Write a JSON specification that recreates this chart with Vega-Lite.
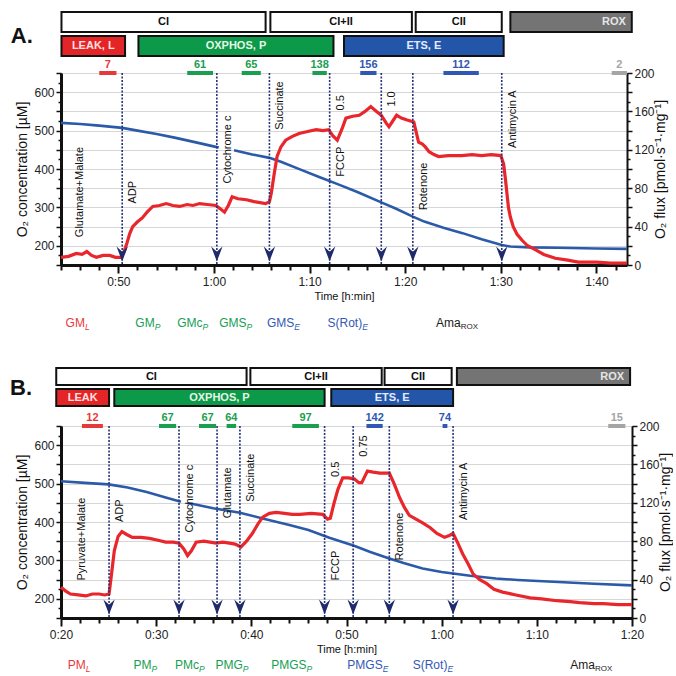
{
"$schema": "https://vega.github.io/schema/vega-lite/v6.json",
"padding": {"left": 10, "top": 11, "right": 0, "bottom": 0},
"background": "white",
"config": {
  "font": "Liberation Sans",
  "view": {"stroke": null},
  "axis": {"labelFont": "Liberation Sans", "titleFont": "Liberation Sans", "labelColor": "#222", "titleColor": "#111", "tickColor": "#111", "domainColor": "#111", "titleFontWeight": "normal", "labelFontSize": 12, "gridColor": "#d6d6d6", "gridWidth": 1, "labelOverlap": false, "labelFlush": false}
},
"datasets": {
  "hdrA": [
    {"tier": "complex", "kind": "complex", "label": "CI", "from": 44.05, "to": 65.4},
    {"tier": "complex", "kind": "complex", "label": "CI+II", "from": 65.9, "to": 80.7},
    {"tier": "complex", "kind": "complex", "label": "CII", "from": 81.1, "to": 90.1},
    {"tier": "complex", "kind": "ROX", "label": "ROX", "from": 91.0, "to": 103.7},
    {"tier": "state", "kind": "LEAK", "label": "LEAK, L", "from": 44.05, "to": 50.7},
    {"tier": "state", "kind": "OXPHOS", "label": "OXPHOS, P", "from": 52.1, "to": 72.5},
    {"tier": "state", "kind": "ETS", "label": "ETS, E", "from": 73.6, "to": 90.3}
  ],
  "hdrB": [
    {"tier": "complex", "kind": "complex", "label": "CI", "from": 19.5, "to": 39.5},
    {"tier": "complex", "kind": "complex", "label": "CI+II", "from": 39.9, "to": 53.7},
    {"tier": "complex", "kind": "complex", "label": "CII", "from": 54.0, "to": 61.05},
    {"tier": "complex", "kind": "ROX", "label": "ROX", "from": 61.6, "to": 79.8},
    {"tier": "state", "kind": "LEAK", "label": "LEAK", "from": 19.5, "to": 25.05},
    {"tier": "state", "kind": "OXPHOS", "label": "OXPHOS, P", "from": 25.6, "to": 47.7},
    {"tier": "state", "kind": "ETS", "label": "ETS, E", "from": 48.4, "to": 61.2}
  ],
  "mkA": [
    {"from": 48.0, "to": 49.8, "v": 7, "kind": "L"},
    {"from": 57.2, "to": 59.9, "v": 61, "kind": "P"},
    {"from": 62.9, "to": 64.9, "v": 65, "kind": "P"},
    {"from": 70.3, "to": 71.8, "v": 138, "kind": "P"},
    {"from": 75.3, "to": 77.0, "v": 156, "kind": "E"},
    {"from": 84.0, "to": 87.7, "v": 112, "kind": "E"},
    {"from": 101.6, "to": 103.2, "v": 2, "kind": "ROX"}
  ],
  "mkB": [
    {"from": 22.2, "to": 24.4, "v": 12, "kind": "L"},
    {"from": 30.3, "to": 32.1, "v": 67, "kind": "P"},
    {"from": 34.5, "to": 36.3, "v": 67, "kind": "P"},
    {"from": 37.4, "to": 38.4, "v": 64, "kind": "P"},
    {"from": 44.3, "to": 47.1, "v": 97, "kind": "P"},
    {"from": 52.1, "to": 53.8, "v": 142, "kind": "E"},
    {"from": 60.1, "to": 60.6, "v": 74, "kind": "E"},
    {"from": 77.5, "to": 79.3, "v": 15, "kind": "ROX"}
  ],
  "evA": [{"t": 50.4}, {"t": 60.3}, {"t": 65.8}, {"t": 72.1}, {"t": 77.5}, {"t": 80.8}, {"t": 90.1}],
  "evB": [{"t": 25.05}, {"t": 32.4}, {"t": 36.4}, {"t": 38.8}, {"t": 47.7}, {"t": 50.7}, {"t": 54.5}, {"t": 61.2}],
  "lblA": [
    {"t": 44.8, "label": "Glutamate+Malate", "level": 29},
    {"t": 50.4, "label": "ADP", "level": 64},
    {"t": 60.3, "label": "Cytochrome c", "level": 85},
    {"t": 65.8, "label": "Succinate", "level": 141},
    {"t": 72.1, "label": "FCCP", "level": 92},
    {"t": 72.1, "label": "0.5", "level": 161},
    {"t": 77.5, "label": "1.0", "level": 165},
    {"t": 80.8, "label": "Rotenone", "level": 57},
    {"t": 90.1, "label": "Antimycin A", "level": 122}
  ],
  "lblB": [
    {"t": 21.0, "label": "Pyruvate+Malate", "level": 39},
    {"t": 25.05, "label": "ADP", "level": 100},
    {"t": 32.4, "label": "Cytochrome c", "level": 89},
    {"t": 36.4, "label": "Glutamate", "level": 104},
    {"t": 38.8, "label": "Succinate", "level": 121},
    {"t": 47.7, "label": "FCCP", "level": 39},
    {"t": 47.7, "label": "0.5", "level": 147},
    {"t": 50.7, "label": "0.75", "level": 168},
    {"t": 54.5, "label": "Rotenone", "level": 60},
    {"t": 61.2, "label": "Antimycin A", "level": 102}
  ],
  "ftA": [
    {"t": 46.5, "main": "GM", "sub": "L", "st": "L"},
    {"t": 53.8, "main": "GM", "sub": "P", "st": "P"},
    {"t": 58.8, "main": "GMc", "sub": "P", "st": "P"},
    {"t": 63.4, "main": "GMS", "sub": "P", "st": "P"},
    {"t": 68.4, "main": "GMS", "sub": "E", "st": "E"},
    {"t": 75.5, "main": "S(Rot)", "sub": "E", "st": "E"},
    {"t": 85.8, "main": "Ama", "sub": "ROX", "st": "ROX"}
  ],
  "ftB": [
    {"t": 22.6, "main": "PM", "sub": "L", "st": "L"},
    {"t": 29.5, "main": "PM", "sub": "P", "st": "P"},
    {"t": 34.5, "main": "PMc", "sub": "P", "st": "P"},
    {"t": 39.1, "main": "PMG", "sub": "P", "st": "P"},
    {"t": 45.8, "main": "PMGS", "sub": "P", "st": "P"},
    {"t": 53.8, "main": "PMGS", "sub": "E", "st": "E"},
    {"t": 60.6, "main": "S(Rot)", "sub": "E", "st": "E"},
    {"t": 76.1, "main": "Ama", "sub": "ROX", "st": "ROX"}
  ],
  "o2A": [
    {"t": 44, "o2": 520, "seg": 1}, {"t": 46, "o2": 517, "seg": 1}, {"t": 48, "o2": 513, "seg": 1}, {"t": 50.4, "o2": 507, "seg": 1},
    {"t": 52, "o2": 500, "seg": 1}, {"t": 54, "o2": 491, "seg": 1}, {"t": 56, "o2": 481, "seg": 1}, {"t": 58, "o2": 470, "seg": 1},
    {"t": 60.3, "o2": 457, "seg": 1}, {"t": 60.5, "o2": 456, "seg": 1},
    {"t": 62.1, "o2": 449, "seg": 2}, {"t": 64, "o2": 438, "seg": 2}, {"t": 65.8, "o2": 429, "seg": 2}, {"t": 67, "o2": 419, "seg": 2},
    {"t": 69, "o2": 399, "seg": 2}, {"t": 71, "o2": 379, "seg": 2}, {"t": 73, "o2": 360, "seg": 2}, {"t": 75, "o2": 340, "seg": 2},
    {"t": 77.5, "o2": 313, "seg": 2}, {"t": 79, "o2": 297, "seg": 2}, {"t": 80.8, "o2": 276, "seg": 2}, {"t": 82, "o2": 263, "seg": 2},
    {"t": 84, "o2": 247, "seg": 2}, {"t": 86, "o2": 233, "seg": 2}, {"t": 88, "o2": 217, "seg": 2}, {"t": 90.1, "o2": 202, "seg": 2},
    {"t": 91, "o2": 198, "seg": 2}, {"t": 93, "o2": 196, "seg": 2}, {"t": 96, "o2": 195, "seg": 2}, {"t": 100, "o2": 193, "seg": 2},
    {"t": 103.2, "o2": 192, "seg": 2}
  ],
  "o2B": [
    {"t": 20, "o2": 506, "seg": 1}, {"t": 22.5, "o2": 502, "seg": 1}, {"t": 25, "o2": 498, "seg": 1}, {"t": 27, "o2": 490, "seg": 1},
    {"t": 29, "o2": 478, "seg": 1}, {"t": 31, "o2": 464, "seg": 1}, {"t": 32.6, "o2": 453, "seg": 1},
    {"t": 33.3, "o2": 449, "seg": 2}, {"t": 34, "o2": 446, "seg": 2}, {"t": 36, "o2": 436, "seg": 2}, {"t": 38.8, "o2": 424, "seg": 2},
    {"t": 41.4, "o2": 408, "seg": 2}, {"t": 44, "o2": 392, "seg": 2}, {"t": 46, "o2": 379, "seg": 2}, {"t": 48.2, "o2": 359, "seg": 2},
    {"t": 50.8, "o2": 338, "seg": 2}, {"t": 52.5, "o2": 322, "seg": 2}, {"t": 54.5, "o2": 305, "seg": 2}, {"t": 56, "o2": 293, "seg": 2},
    {"t": 58, "o2": 279, "seg": 2}, {"t": 60, "o2": 270, "seg": 2}, {"t": 61.2, "o2": 266, "seg": 2}, {"t": 63, "o2": 260, "seg": 2},
    {"t": 65.7, "o2": 253, "seg": 2}, {"t": 68, "o2": 249, "seg": 2}, {"t": 72.8, "o2": 243, "seg": 2}, {"t": 76, "o2": 239, "seg": 2},
    {"t": 80, "o2": 235, "seg": 2}
  ],
  "fluxA": [
    {"t": 44.0, "v": 8}, {"t": 44.8, "v": 9}, {"t": 45.6, "v": 12}, {"t": 46.2, "v": 11}, {"t": 46.7, "v": 14}, {"t": 47.2, "v": 10},
    {"t": 47.7, "v": 8}, {"t": 48.4, "v": 10}, {"t": 49.1, "v": 10}, {"t": 49.7, "v": 8}, {"t": 50.3, "v": 8}, {"t": 50.6, "v": 14},
    {"t": 50.9, "v": 23}, {"t": 51.2, "v": 33}, {"t": 51.5, "v": 40}, {"t": 52.0, "v": 45}, {"t": 52.5, "v": 49}, {"t": 53.0, "v": 55},
    {"t": 53.6, "v": 61}, {"t": 54.3, "v": 62}, {"t": 55.0, "v": 64}, {"t": 55.7, "v": 62}, {"t": 56.4, "v": 61}, {"t": 57.2, "v": 63},
    {"t": 57.8, "v": 62}, {"t": 58.5, "v": 64}, {"t": 59.3, "v": 63}, {"t": 60.2, "v": 62}, {"t": 60.6, "v": 59}, {"t": 61.1, "v": 55},
    {"t": 61.5, "v": 62}, {"t": 61.9, "v": 71}, {"t": 62.5, "v": 69}, {"t": 63.4, "v": 68}, {"t": 64.2, "v": 66}, {"t": 65.4, "v": 64},
    {"t": 65.8, "v": 66}, {"t": 66.0, "v": 75}, {"t": 66.3, "v": 95}, {"t": 66.6, "v": 113}, {"t": 67.0, "v": 123}, {"t": 67.5, "v": 130},
    {"t": 68.2, "v": 134}, {"t": 68.9, "v": 137}, {"t": 69.8, "v": 139}, {"t": 70.7, "v": 141}, {"t": 71.4, "v": 140}, {"t": 72.0, "v": 141},
    {"t": 72.4, "v": 135}, {"t": 72.9, "v": 130}, {"t": 73.4, "v": 142}, {"t": 73.8, "v": 153}, {"t": 74.5, "v": 155}, {"t": 75.2, "v": 156},
    {"t": 75.8, "v": 160}, {"t": 76.4, "v": 165}, {"t": 77.0, "v": 160}, {"t": 77.5, "v": 156}, {"t": 78.0, "v": 148}, {"t": 78.3, "v": 144},
    {"t": 78.7, "v": 150}, {"t": 79.1, "v": 156}, {"t": 79.6, "v": 153}, {"t": 80.2, "v": 151}, {"t": 80.9, "v": 149}, {"t": 81.4, "v": 128},
    {"t": 81.8, "v": 126}, {"t": 82.1, "v": 123}, {"t": 82.5, "v": 118}, {"t": 83.0, "v": 115}, {"t": 83.5, "v": 113}, {"t": 84.5, "v": 114},
    {"t": 85.9, "v": 114}, {"t": 87.0, "v": 115}, {"t": 88.0, "v": 114}, {"t": 89.0, "v": 115}, {"t": 90.0, "v": 114}, {"t": 90.3, "v": 105},
    {"t": 90.5, "v": 88}, {"t": 90.8, "v": 60}, {"t": 91.0, "v": 50}, {"t": 91.3, "v": 40}, {"t": 91.7, "v": 32}, {"t": 92.2, "v": 26},
    {"t": 92.8, "v": 20}, {"t": 93.6, "v": 16}, {"t": 94.5, "v": 11}, {"t": 95.7, "v": 7}, {"t": 97.0, "v": 5}, {"t": 98.1, "v": 3},
    {"t": 100.0, "v": 3}, {"t": 101.5, "v": 2}, {"t": 103.2, "v": 2}
  ],
  "fluxB": [
    {"t": 20.0, "v": 32}, {"t": 20.5, "v": 28}, {"t": 21.0, "v": 25}, {"t": 21.8, "v": 24}, {"t": 22.6, "v": 23}, {"t": 23.3, "v": 25},
    {"t": 24.0, "v": 25}, {"t": 24.6, "v": 24}, {"t": 25.05, "v": 25}, {"t": 25.3, "v": 45}, {"t": 25.6, "v": 70}, {"t": 26.0, "v": 85},
    {"t": 26.4, "v": 90}, {"t": 26.9, "v": 87}, {"t": 27.5, "v": 84}, {"t": 28.4, "v": 84}, {"t": 29.3, "v": 83}, {"t": 30.2, "v": 81},
    {"t": 31.0, "v": 79}, {"t": 31.8, "v": 79}, {"t": 32.4, "v": 78}, {"t": 32.9, "v": 72}, {"t": 33.3, "v": 65}, {"t": 33.7, "v": 70},
    {"t": 34.2, "v": 79}, {"t": 35.0, "v": 80}, {"t": 36.3, "v": 78}, {"t": 37.0, "v": 79}, {"t": 37.7, "v": 78}, {"t": 38.3, "v": 77},
    {"t": 38.9, "v": 74}, {"t": 39.5, "v": 80}, {"t": 40.1, "v": 88}, {"t": 40.7, "v": 98}, {"t": 41.2, "v": 105}, {"t": 41.9, "v": 109},
    {"t": 42.6, "v": 110}, {"t": 43.5, "v": 109}, {"t": 44.3, "v": 108}, {"t": 45.1, "v": 108}, {"t": 46.3, "v": 109}, {"t": 47.5, "v": 108},
    {"t": 48.0, "v": 103}, {"t": 48.3, "v": 104}, {"t": 48.7, "v": 120}, {"t": 49.1, "v": 134}, {"t": 49.6, "v": 146}, {"t": 50.2, "v": 146},
    {"t": 50.8, "v": 145}, {"t": 51.3, "v": 141}, {"t": 51.6, "v": 141}, {"t": 52.2, "v": 153}, {"t": 52.8, "v": 152}, {"t": 53.5, "v": 151},
    {"t": 54.5, "v": 151}, {"t": 55.0, "v": 140}, {"t": 55.6, "v": 125}, {"t": 56.1, "v": 115}, {"t": 56.6, "v": 107}, {"t": 57.3, "v": 103},
    {"t": 58.0, "v": 99}, {"t": 58.8, "v": 94}, {"t": 59.5, "v": 88}, {"t": 60.3, "v": 84}, {"t": 60.8, "v": 86}, {"t": 61.2, "v": 88},
    {"t": 61.7, "v": 78}, {"t": 62.2, "v": 67}, {"t": 62.8, "v": 56}, {"t": 63.3, "v": 46}, {"t": 64.0, "v": 40}, {"t": 64.7, "v": 36},
    {"t": 65.5, "v": 30}, {"t": 66.4, "v": 27}, {"t": 67.8, "v": 24}, {"t": 69.3, "v": 21}, {"t": 70.5, "v": 20}, {"t": 72.1, "v": 18},
    {"t": 73.5, "v": 17}, {"t": 74.5, "v": 16}, {"t": 76.0, "v": 15}, {"t": 77.0, "v": 15}, {"t": 78.5, "v": 14}, {"t": 80.0, "v": 14}
  ]
},
"bounds": "flush",
"spacing": 0,
"resolve": {"scale": {"x": "independent", "y": "independent", "color": "independent", "fill": "independent"}},
"vconcat": [
  {
    "width": 566, "height": 61,
    "layer": [
      {"data": {"name": "hdrA"}, "mark": {"type": "bar", "stroke": "#111", "strokeWidth": 2},
       "encoding": {
         "x": {"field": "from", "type": "quantitative", "scale": {"domain": [44, 103.2], "nice": false, "zero": false}, "axis": null},
         "x2": {"field": "to"},
         "y": {"field": "tier", "type": "nominal", "scale": {"domain": ["complex", "state"], "paddingInner": 0.1667, "paddingOuter": 0.354, "align": 0}, "axis": null},
         "fill": {"field": "kind", "type": "nominal", "scale": {"domain": ["complex", "LEAK", "OXPHOS", "ETS", "ROX"], "range": ["#ffffff", "#e42528", "#0c994a", "#2356a8", "#747474"]}, "legend": null}}},
      {"data": {"name": "hdrA"}, "transform": [{"filter": "datum.kind !== 'ROX'"}, {"fold": ["from", "to"], "as": ["k", "tt"]}],
       "mark": {"type": "text", "fontSize": 11, "fontWeight": "bold"},
       "encoding": {
         "x": {"field": "tt", "aggregate": "mean", "type": "quantitative"},
         "y": {"field": "tier", "type": "nominal"},
         "text": {"field": "label"},
         "color": {"field": "kind", "type": "nominal", "scale": {"domain": ["complex", "LEAK", "OXPHOS", "ETS"], "range": ["#111111", "#ffe0e0", "#e8f6e6", "#e6ecff"]}, "legend": null},
         "detail": {"field": "from", "type": "quantitative"}}},
      {"data": {"name": "hdrA"}, "transform": [{"filter": "datum.kind === 'ROX'"}],
       "mark": {"type": "text", "align": "right", "dx": -6, "fontSize": 11, "fontWeight": "bold", "color": "#e6e6e6"},
       "encoding": {"x": {"field": "to", "type": "quantitative"}, "y": {"field": "tier", "type": "nominal"}, "text": {"field": "label"}}},
      {"data": {"values": [{"p": "A."}]}, "mark": {"type": "text", "fontSize": 22, "fontWeight": "bold", "dy": -10, "color": "#111"},
       "encoding": {"x": {"datum": 39.9, "type": "quantitative"}, "y": {"datum": "state", "type": "nominal"}, "text": {"field": "p"}}}
    ]
  },
  {
    "width": 566, "height": 192,
    "view": {"stroke": "#111", "strokeWidth": 1},
    "resolve": {"scale": {"y": "independent"}},
    "layer": [
      {"data": {"name": "o2A"}, "mark": {"type": "line", "color": "#2b5aa8", "strokeWidth": 2.6},
       "encoding": {
         "x": {"field": "t", "type": "quantitative", "scale": {"domain": [44, 103.2], "nice": false, "zero": false},
               "axis": {"values": [44,46,48,50,52,54,56,58,60,62,64,66,68,70,72,74,76,78,80,82,84,86,88,90,92,94,96,98,100,102], "tickCount": 1000,
                        "labelExpr": "datum.value % 10 === 0 ? floor(datum.value/60) + ':' + (datum.value % 60 < 10 ? '0' : '') + (datum.value % 60) : ''",
                        "labelOverlap": false, "labelFlush": false, "tickSize": {"condition": {"test": "datum.value % 10 === 0", "value": 8}, "value": 5},
                        "tickWidth": 2, "domainWidth": 3, "grid": false, "title": "Time [h:min]", "titleFontSize": 11, "titlePadding": 3, "labelPadding": 3}},
         "y": {"field": "o2", "type": "quantitative", "scale": {"domain": [150, 650], "nice": false, "zero": false},
               "axis": {"values": [150,175,200,225,250,275,300,325,350,375,400,425,450,475,500,525,550,575,600,625,650], "tickCount": 1000,
                        "labelExpr": "datum.value % 100 === 0 && datum.value >= 200 && datum.value <= 600 ? datum.value : ''",
                        "labelOverlap": false, "grid": true, "gridOpacity": {"condition": {"test": "datum.value % 50 === 0", "value": 1}, "value": 0},
                        "tickSize": {"condition": {"test": "datum.value % 50 === 0", "value": 5}, "value": 3},
                        "tickWidth": 1.5, "domainWidth": 3, "title": "O₂ concentration [µM]", "titleFontSize": 14, "titlePadding": 4, "labelPadding": 2}},
         "detail": {"field": "seg", "type": "nominal"}}},
      {"layer": [
        {"data": {"name": "fluxA"}, "mark": {"type": "line", "color": "#e8262b", "strokeWidth": 3.2},
         "encoding": {
           "x": {"field": "t", "type": "quantitative", "scale": {"domain": [44, 103.2], "nice": false, "zero": false}},
           "y": {"field": "v", "type": "quantitative", "scale": {"domain": [0, 200], "nice": false, "zero": false},
                 "axis": {"orient": "right", "values": [0,10,20,30,40,50,60,70,80,90,100,110,120,130,140,150,160,170,180,190,200], "tickCount": 1000,
                          "labelExpr": "datum.value % 40 === 0 ? datum.value : ''", "labelOverlap": false, "grid": false,
                          "tickSize": {"condition": {"test": "datum.value % 20 === 0", "value": 5}, "value": 3},
                          "tickWidth": 1.5, "domainWidth": 2, "title": "O₂ flux [pmol·s⁻¹·mg⁻¹]", "titleAngle": 270, "titleBaseline": "middle",
                          "titleX": 33, "titleY": 96, "titleAlign": "center", "titleFontSize": 14, "labelPadding": 2}}}},
        {"data": {"name": "evA"}, "mark": {"type": "rule", "color": "#26337a", "strokeWidth": 1.6, "strokeDash": [2, 1.5]},
         "encoding": {"x": {"field": "t", "type": "quantitative"}}},
        {"data": {"name": "evA"}, "mark": {"type": "point", "shape": "M-0.75,-1L0,1L0.75,-1L0,-0.3Z", "filled": true, "color": "#1f2a6b", "opacity": 1, "size": 230},
         "encoding": {"x": {"field": "t", "type": "quantitative"}, "y": {"datum": 11.5, "type": "quantitative"}}},
        {"data": {"name": "mkA"}, "mark": {"type": "rule", "strokeWidth": 4, "strokeCap": "butt"},
         "encoding": {"x": {"field": "from", "type": "quantitative"}, "x2": {"field": "to"}, "y": {"datum": 200, "type": "quantitative"},
                      "color": {"field": "kind", "type": "nominal", "scale": {"domain": ["L", "P", "E", "ROX"], "range": ["#e53a3a", "#1a9e50", "#2f57b3", "#a5a5a5"]}, "legend": null}}},
        {"data": {"name": "mkA"}, "transform": [{"fold": ["from", "to"], "as": ["k", "tt"]}],
         "mark": {"type": "text", "baseline": "bottom", "dy": -3, "fontSize": 11, "fontWeight": "bold"},
         "encoding": {"x": {"field": "tt", "aggregate": "mean", "type": "quantitative"}, "y": {"datum": 200, "type": "quantitative"},
                      "text": {"field": "v", "type": "quantitative"},
                      "color": {"field": "kind", "type": "nominal", "legend": null},
                      "detail": {"field": "from", "type": "quantitative"}}},
        {"data": {"name": "lblA"}, "mark": {"type": "text", "angle": 270, "align": "left", "baseline": "top", "dy": 5, "fontSize": 11, "color": "#111"},
         "encoding": {"x": {"field": "t", "type": "quantitative"}, "y": {"field": "level", "type": "quantitative"}, "text": {"field": "label"}}}
      ]}
    ]
  },
  {
    "width": 566, "height": 103,
    "data": {"name": "ftA"},
    "layer": [
      {"mark": {"type": "text", "align": "right", "baseline": "middle", "dy": 6.5, "fontSize": 12},
       "encoding": {"x": {"field": "t", "type": "quantitative", "scale": {"domain": [44, 103.2], "nice": false, "zero": false}, "axis": null},
                    "text": {"field": "main"},
                    "color": {"field": "st", "type": "nominal", "scale": {"domain": ["L", "P", "E", "ROX"], "range": ["#e8393d", "#14a052", "#3258b6", "#1a1a1a"]}, "legend": null}}},
      {"transform": [{"filter": "datum.sub !== 'ROX'"}],
       "mark": {"type": "text", "align": "left", "baseline": "middle", "dy": 10.5, "fontSize": 8.5, "fontStyle": "italic"},
       "encoding": {"x": {"field": "t", "type": "quantitative"}, "text": {"field": "sub"}, "color": {"field": "st", "type": "nominal", "legend": null}}},
      {"transform": [{"filter": "datum.sub === 'ROX'"}],
       "mark": {"type": "text", "align": "left", "baseline": "middle", "dy": 10.5, "fontSize": 8},
       "encoding": {"x": {"field": "t", "type": "quantitative"}, "text": {"field": "sub"}, "color": {"field": "st", "type": "nominal", "legend": null}}}
    ]
  },
  {
    "width": 571, "height": 58,
    "layer": [
      {"data": {"name": "hdrB"}, "mark": {"type": "bar", "stroke": "#111", "strokeWidth": 2},
       "encoding": {
         "x": {"field": "from", "type": "quantitative", "scale": {"domain": [20, 80], "nice": false, "zero": false}, "axis": null},
         "x2": {"field": "to"},
         "y": {"field": "tier", "type": "nominal", "scale": {"domain": ["complex", "state"], "paddingInner": 0.19, "paddingOuter": 0.476, "align": 0}, "axis": null},
         "fill": {"field": "kind", "type": "nominal", "scale": {"domain": ["complex", "LEAK", "OXPHOS", "ETS", "ROX"], "range": ["#ffffff", "#e42528", "#0c994a", "#2356a8", "#747474"]}, "legend": null}}},
      {"data": {"name": "hdrB"}, "transform": [{"filter": "datum.kind !== 'ROX'"}, {"fold": ["from", "to"], "as": ["k", "tt"]}],
       "mark": {"type": "text", "fontSize": 11, "fontWeight": "bold"},
       "encoding": {
         "x": {"field": "tt", "aggregate": "mean", "type": "quantitative"},
         "y": {"field": "tier", "type": "nominal"},
         "text": {"field": "label"},
         "color": {"field": "kind", "type": "nominal", "scale": {"domain": ["complex", "LEAK", "OXPHOS", "ETS"], "range": ["#111111", "#ffe0e0", "#e8f6e6", "#e6ecff"]}, "legend": null},
         "detail": {"field": "from", "type": "quantitative"}}},
      {"data": {"name": "hdrB"}, "transform": [{"filter": "datum.kind === 'ROX'"}],
       "mark": {"type": "text", "align": "right", "dx": -6, "fontSize": 11, "fontWeight": "bold", "color": "#e6e6e6"},
       "encoding": {"x": {"field": "to", "type": "quantitative"}, "y": {"field": "tier", "type": "nominal"}, "text": {"field": "label"}}},
      {"data": {"values": [{"p": "B."}]}, "mark": {"type": "text", "fontSize": 22, "fontWeight": "bold", "dy": -10, "color": "#111"},
       "encoding": {"x": {"datum": 15.8, "type": "quantitative"}, "y": {"datum": "state", "type": "nominal"}, "text": {"field": "p"}}}
    ]
  },
  {
    "width": 571, "height": 192,
    "view": {"stroke": "#111", "strokeWidth": 1},
    "resolve": {"scale": {"y": "independent"}},
    "layer": [
      {"data": {"name": "o2B"}, "mark": {"type": "line", "color": "#2b5aa8", "strokeWidth": 2.6},
       "encoding": {
         "x": {"field": "t", "type": "quantitative", "scale": {"domain": [20, 80], "nice": false, "zero": false},
               "axis": {"values": [20,22,24,26,28,30,32,34,36,38,40,42,44,46,48,50,52,54,56,58,60,62,64,66,68,70,72,74,76,78,80], "tickCount": 1000,
                        "labelExpr": "datum.value % 10 === 0 ? floor(datum.value/60) + ':' + (datum.value % 60 < 10 ? '0' : '') + (datum.value % 60) : ''",
                        "labelOverlap": false, "labelFlush": false, "tickSize": {"condition": {"test": "datum.value % 10 === 0", "value": 8}, "value": 5},
                        "tickWidth": 2, "domainWidth": 3, "grid": false, "title": "Time [h:min]", "titleFontSize": 11, "titlePadding": 3, "labelPadding": 3}},
         "y": {"field": "o2", "type": "quantitative", "scale": {"domain": [150, 650], "nice": false, "zero": false},
               "axis": {"values": [150,175,200,225,250,275,300,325,350,375,400,425,450,475,500,525,550,575,600,625,650], "tickCount": 1000,
                        "labelExpr": "datum.value % 100 === 0 && datum.value >= 200 && datum.value <= 600 ? datum.value : ''",
                        "labelOverlap": false, "grid": true, "gridOpacity": {"condition": {"test": "datum.value % 50 === 0", "value": 1}, "value": 0},
                        "tickSize": {"condition": {"test": "datum.value % 50 === 0", "value": 5}, "value": 3},
                        "tickWidth": 1.5, "domainWidth": 3, "title": "O₂ concentration [µM]", "titleFontSize": 14, "titlePadding": 4, "labelPadding": 2}},
         "detail": {"field": "seg", "type": "nominal"}}},
      {"layer": [
        {"data": {"name": "fluxB"}, "mark": {"type": "line", "color": "#e8262b", "strokeWidth": 3.2},
         "encoding": {
           "x": {"field": "t", "type": "quantitative", "scale": {"domain": [20, 80], "nice": false, "zero": false}},
           "y": {"field": "v", "type": "quantitative", "scale": {"domain": [0, 200], "nice": false, "zero": false},
                 "axis": {"orient": "right", "values": [0,10,20,30,40,50,60,70,80,90,100,110,120,130,140,150,160,170,180,190,200], "tickCount": 1000,
                          "labelExpr": "datum.value % 40 === 0 ? datum.value : ''", "labelOverlap": false, "grid": false,
                          "tickSize": {"condition": {"test": "datum.value % 20 === 0", "value": 5}, "value": 3},
                          "tickWidth": 1.5, "domainWidth": 2, "title": "O₂ flux [pmol·s⁻¹·mg⁻¹]", "titleAngle": 270, "titleBaseline": "middle",
                          "titleX": 33, "titleY": 96, "titleAlign": "center", "titleFontSize": 14, "labelPadding": 2}}}},
        {"data": {"name": "evB"}, "mark": {"type": "rule", "color": "#26337a", "strokeWidth": 1.6, "strokeDash": [2, 1.5]},
         "encoding": {"x": {"field": "t", "type": "quantitative"}}},
        {"data": {"name": "evB"}, "mark": {"type": "point", "shape": "M-0.75,-1L0,1L0.75,-1L0,-0.3Z", "filled": true, "color": "#1f2a6b", "opacity": 1, "size": 230},
         "encoding": {"x": {"field": "t", "type": "quantitative"}, "y": {"datum": 11.5, "type": "quantitative"}}},
        {"data": {"name": "mkB"}, "mark": {"type": "rule", "strokeWidth": 4, "strokeCap": "butt"},
         "encoding": {"x": {"field": "from", "type": "quantitative"}, "x2": {"field": "to"}, "y": {"datum": 200, "type": "quantitative"},
                      "color": {"field": "kind", "type": "nominal", "scale": {"domain": ["L", "P", "E", "ROX"], "range": ["#e53a3a", "#1a9e50", "#2f57b3", "#a5a5a5"]}, "legend": null}}},
        {"data": {"name": "mkB"}, "transform": [{"fold": ["from", "to"], "as": ["k", "tt"]}],
         "mark": {"type": "text", "baseline": "bottom", "dy": -3, "fontSize": 11, "fontWeight": "bold"},
         "encoding": {"x": {"field": "tt", "aggregate": "mean", "type": "quantitative"}, "y": {"datum": 200, "type": "quantitative"},
                      "text": {"field": "v", "type": "quantitative"},
                      "color": {"field": "kind", "type": "nominal", "legend": null},
                      "detail": {"field": "from", "type": "quantitative"}}},
        {"data": {"name": "lblB"}, "mark": {"type": "text", "angle": 270, "align": "left", "baseline": "top", "dy": 5, "fontSize": 11, "color": "#111"},
         "encoding": {"x": {"field": "t", "type": "quantitative"}, "y": {"field": "level", "type": "quantitative"}, "text": {"field": "label"}}}
      ]}
    ]
  },
  {
    "width": 571, "height": 50,
    "data": {"name": "ftB"},
    "layer": [
      {"mark": {"type": "text", "align": "right", "baseline": "middle", "dy": 22, "fontSize": 12},
       "encoding": {"x": {"field": "t", "type": "quantitative", "scale": {"domain": [20, 80], "nice": false, "zero": false}, "axis": null},
                    "text": {"field": "main"},
                    "color": {"field": "st", "type": "nominal", "scale": {"domain": ["L", "P", "E", "ROX"], "range": ["#e8393d", "#14a052", "#3258b6", "#1a1a1a"]}, "legend": null}}},
      {"transform": [{"filter": "datum.sub !== 'ROX'"}],
       "mark": {"type": "text", "align": "left", "baseline": "middle", "dy": 26, "fontSize": 8.5, "fontStyle": "italic"},
       "encoding": {"x": {"field": "t", "type": "quantitative"}, "text": {"field": "sub"}, "color": {"field": "st", "type": "nominal", "legend": null}}},
      {"transform": [{"filter": "datum.sub === 'ROX'"}],
       "mark": {"type": "text", "align": "left", "baseline": "middle", "dy": 26, "fontSize": 8},
       "encoding": {"x": {"field": "t", "type": "quantitative"}, "text": {"field": "sub"}, "color": {"field": "st", "type": "nominal", "legend": null}}}
    ]
  }
]
}
